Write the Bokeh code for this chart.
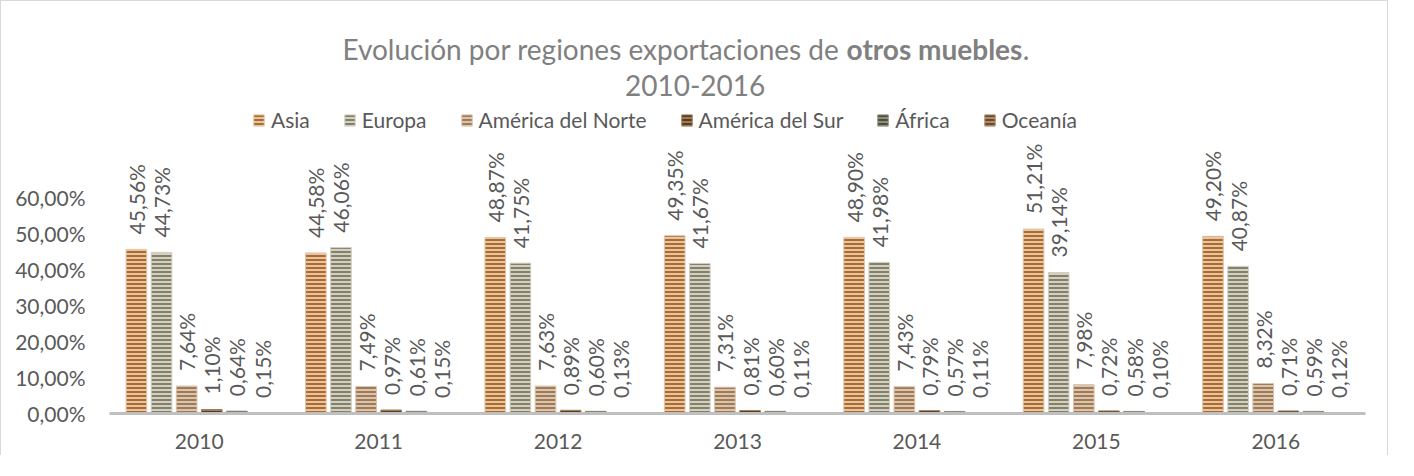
import math
from bokeh.plotting import figure
from bokeh.models import (ColumnDataSource, FactorRange, Range1d, FixedTicker,
                          CustomJSTickFormatter, LabelSet, Label, Legend, LegendItem)
from bokeh.transform import dodge
from bokeh.core.properties import value
from bokeh.embed import file_html
from bokeh.resources import INLINE

years = ["2010", "2011", "2012", "2013", "2014", "2015", "2016"]
regions = ["Asia", "Europa", "América del Norte", "América del Sur", "África", "Oceanía"]
asia = [45.56, 44.58, 48.87, 49.35, 48.90, 51.21, 49.20]
europa = [44.73, 46.06, 41.75, 41.67, 41.98, 39.14, 40.87]
america_norte = [7.64, 7.49, 7.63, 7.31, 7.43, 7.98, 8.32]
america_sur = [1.10, 0.97, 0.89, 0.81, 0.79, 0.72, 0.71]
africa = [0.64, 0.61, 0.60, 0.60, 0.57, 0.58, 0.59]
oceania = [0.15, 0.15, 0.13, 0.11, 0.11, 0.10, 0.12]
series = [asia, europa, america_norte, america_sur, africa, oceania]
y_ticks = [0, 10, 20, 30, 40, 50, 60]
title_normal = "Evolución por regiones exportaciones de "
title_bold = "otros muebles"
title_end = "."
title_line2 = "2010-2016"

# stripe colours (dark line over light base)
dark = ["#B06A2A", "#84816A", "#A07956", "#5C3A1C", "#4E4E3E", "#6E4A2B"]
light = ["#E3C6A8", "#D3D0C2", "#D9C4AE", "#9A7C5E", "#8F8F7C", "#AB8D70"]

FONT = "Lato"
TXT = "#595959"

p = figure(x_range=FactorRange(*years), y_range=Range1d(0, 114.4),
           width=1388, height=455, output_backend="svg", toolbar_location=None,
           min_border_left=108, min_border_right=24, min_border_top=0,
           min_border_bottom=43)
p.styles = {"border-top": "1px solid #D9D9D9", "border-left": "1px solid #D9D9D9",
            "border-right": "1px solid #D9D9D9"}
p.outline_line_color = None
p.grid.visible = False
p.background_fill_color = "white"
p.border_fill_color = "white"

p.yaxis.ticker = FixedTicker(ticks=y_ticks)
p.yaxis.formatter = CustomJSTickFormatter(
    code="return tick.toFixed(2).replace('.', ',') + '%';")
p.yaxis.axis_line_color = None
p.yaxis.major_tick_line_color = None
p.yaxis.minor_tick_line_color = None
p.yaxis.major_tick_out = 0
p.yaxis.major_label_standoff = 24
p.yaxis.major_label_text_font = FONT
p.yaxis.major_label_text_font_size = "21px"
p.yaxis.major_label_text_color = TXT

p.xaxis.axis_line_color = "#BFBFBF"
p.xaxis.axis_line_width = 3
p.xaxis.major_tick_line_color = None
p.xaxis.minor_tick_line_color = None
p.xaxis.major_tick_out = 0
p.xaxis.major_label_standoff = 20
p.xaxis.major_label_text_font = FONT
p.xaxis.major_label_text_font_size = "21px"
p.xaxis.major_label_text_color = TXT

pitch = 0.14
width = 0.115
items = []
for i, (name, vals) in enumerate(zip(regions, series)):
    off = (i - 2.5) * pitch
    src = ColumnDataSource(dict(
        year=years, v=vals,
        lbl=[("%.2f" % v).replace(".", ",") + "%" for v in vals]))
    r = p.vbar(x=dodge("year", off, range=p.x_range), top="v", bottom=0,
               width=width, source=src, fill_color=light[i],
               line_color=light[i], line_width=1,
               hatch_pattern="horizontal_line", hatch_color=dark[i],
               hatch_scale=4, hatch_weight=2)
    items.append(LegendItem(label=name, renderers=[r]))
    p.add_layout(LabelSet(x=dodge("year", off, range=p.x_range), y="v", text="lbl",
                          source=src, angle=math.pi / 2, text_align="left",
                          text_baseline="middle", y_offset=15,
                          text_font=value(FONT), text_font_size=value("21px"),
                          text_color=TXT))

legend = Legend(items=items, orientation="horizontal", location=(143, 281),
                padding=0, margin=0, spacing=33, label_standoff=6,
                glyph_width=13, glyph_height=14,
                label_text_font=FONT, label_text_font_size="21px",
                label_text_color=TXT, border_line_color=None,
                background_fill_alpha=0)
p.add_layout(legend)

TITLE_C = "#808080"
p.add_layout(Label(x=4.108, y=101.1, text=title_normal, text_align="right",
                   text_baseline="middle", text_font=FONT, text_font_size="28px",
                   text_color=TITLE_C))
p.add_layout(Label(x=4.108, y=101.1, text=title_bold, text_align="left",
                   text_baseline="middle", text_font=FONT, text_font_size="28px",
                   text_font_style="bold", text_color=TITLE_C))
p.add_layout(Label(x=5.09, y=101.1, text=title_end, text_align="left",
                   text_baseline="middle", text_font=FONT, text_font_size="28px",
                   text_color=TITLE_C))
p.add_layout(Label(x=3.264, y=91.1, text=title_line2, text_align="center",
                   text_baseline="middle", text_font=FONT, text_font_size="28px",
                   text_color=TITLE_C))

open("out.html", "w").write(file_html(p, INLINE))
